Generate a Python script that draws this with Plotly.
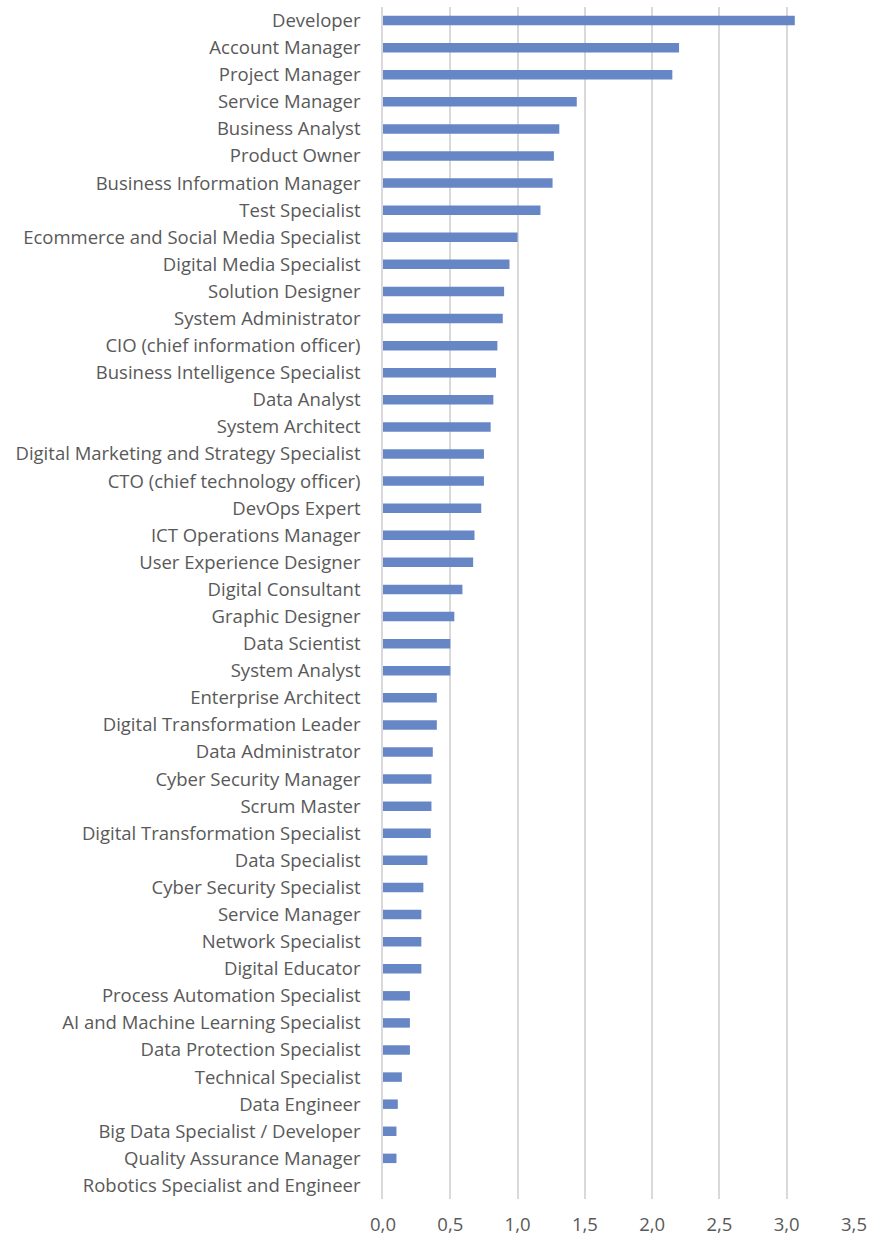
import plotly.graph_objects as go

roles = [
    "Developer", "Account Manager", "Project Manager", "Service Manager",
    "Business Analyst", "Product Owner", "Business Information Manager",
    "Test Specialist", "Ecommerce and Social Media Specialist",
    "Digital Media Specialist", "Solution Designer", "System Administrator",
    "CIO (chief information officer)", "Business Intelligence Specialist",
    "Data Analyst", "System Architect", "Digital Marketing and Strategy Specialist",
    "CTO (chief technology officer)", "DevOps Expert", "ICT Operations Manager",
    "User Experience Designer", "Digital Consultant", "Graphic Designer",
    "Data Scientist", "System Analyst", "Enterprise Architect",
    "Digital Transformation Leader", "Data Administrator", "Cyber Security Manager",
    "Scrum Master", "Digital Transformation Specialist", "Data Specialist",
    "Cyber Security Specialist", "Service Manager", "Network Specialist",
    "Digital Educator", "Process Automation Specialist",
    "AI and Machine Learning Specialist", "Data Protection Specialist",
    "Technical Specialist", "Data Engineer", "Big Data Specialist / Developer",
    "Quality Assurance Manager", "Robotics Specialist and Engineer",
]

values = [
    3.06, 2.20, 2.15, 1.44, 1.31, 1.27, 1.26, 1.17, 1.00, 0.94,
    0.90, 0.89, 0.85, 0.84, 0.82, 0.80, 0.75, 0.75, 0.73, 0.68,
    0.67, 0.59, 0.53, 0.50, 0.50, 0.40, 0.40, 0.37, 0.36, 0.36,
    0.355, 0.33, 0.30, 0.285, 0.285, 0.285, 0.20, 0.20, 0.20, 0.14,
    0.11, 0.10, 0.10, 0.0,
]

x_ticks = [0, 0.5, 1.0, 1.5, 2.0, 2.5, 3.0, 3.5]

# "Service Manager" appears twice, so rows are placed by index
positions = list(range(len(roles)))

fig = go.Figure(
    go.Bar(
        x=values,
        y=positions,
        orientation="h",
        width=0.35,
        marker=dict(color="#6786C6", line=dict(width=0)),
    )
)

fig.update_layout(
    width=874,
    height=1243,
    margin=dict(l=383, r=14, t=7, b=40),
    plot_bgcolor="white",
    paper_bgcolor="white",
    separators=", ",
    showlegend=False,
    font=dict(family="Open Sans, sans-serif", size=18.5, color="#595959"),
)

fig.update_xaxes(
    range=[0, 3.5],
    tickvals=x_ticks,
    tickformat=".1f",
    showgrid=True,
    gridcolor="#D9D9D9",
    gridwidth=1.5,
    zeroline=False,
    showline=False,
    ticks="outside",
    ticklen=9,
    tickcolor="rgba(0,0,0,0)",
    tickfont=dict(size=18.5, color="#595959"),
)

fig.update_yaxes(
    range=[len(roles) - 0.5, -0.5],
    tickvals=positions,
    ticktext=roles,
    showgrid=False,
    zeroline=False,
    showline=True,
    linecolor="#D9D9D9",
    linewidth=1.5,
    ticks="outside",
    ticklen=17,
    tickcolor="rgba(0,0,0,0)",
    tickfont=dict(size=18.5, color="#595959"),
)

fig.write_html("out.html")
